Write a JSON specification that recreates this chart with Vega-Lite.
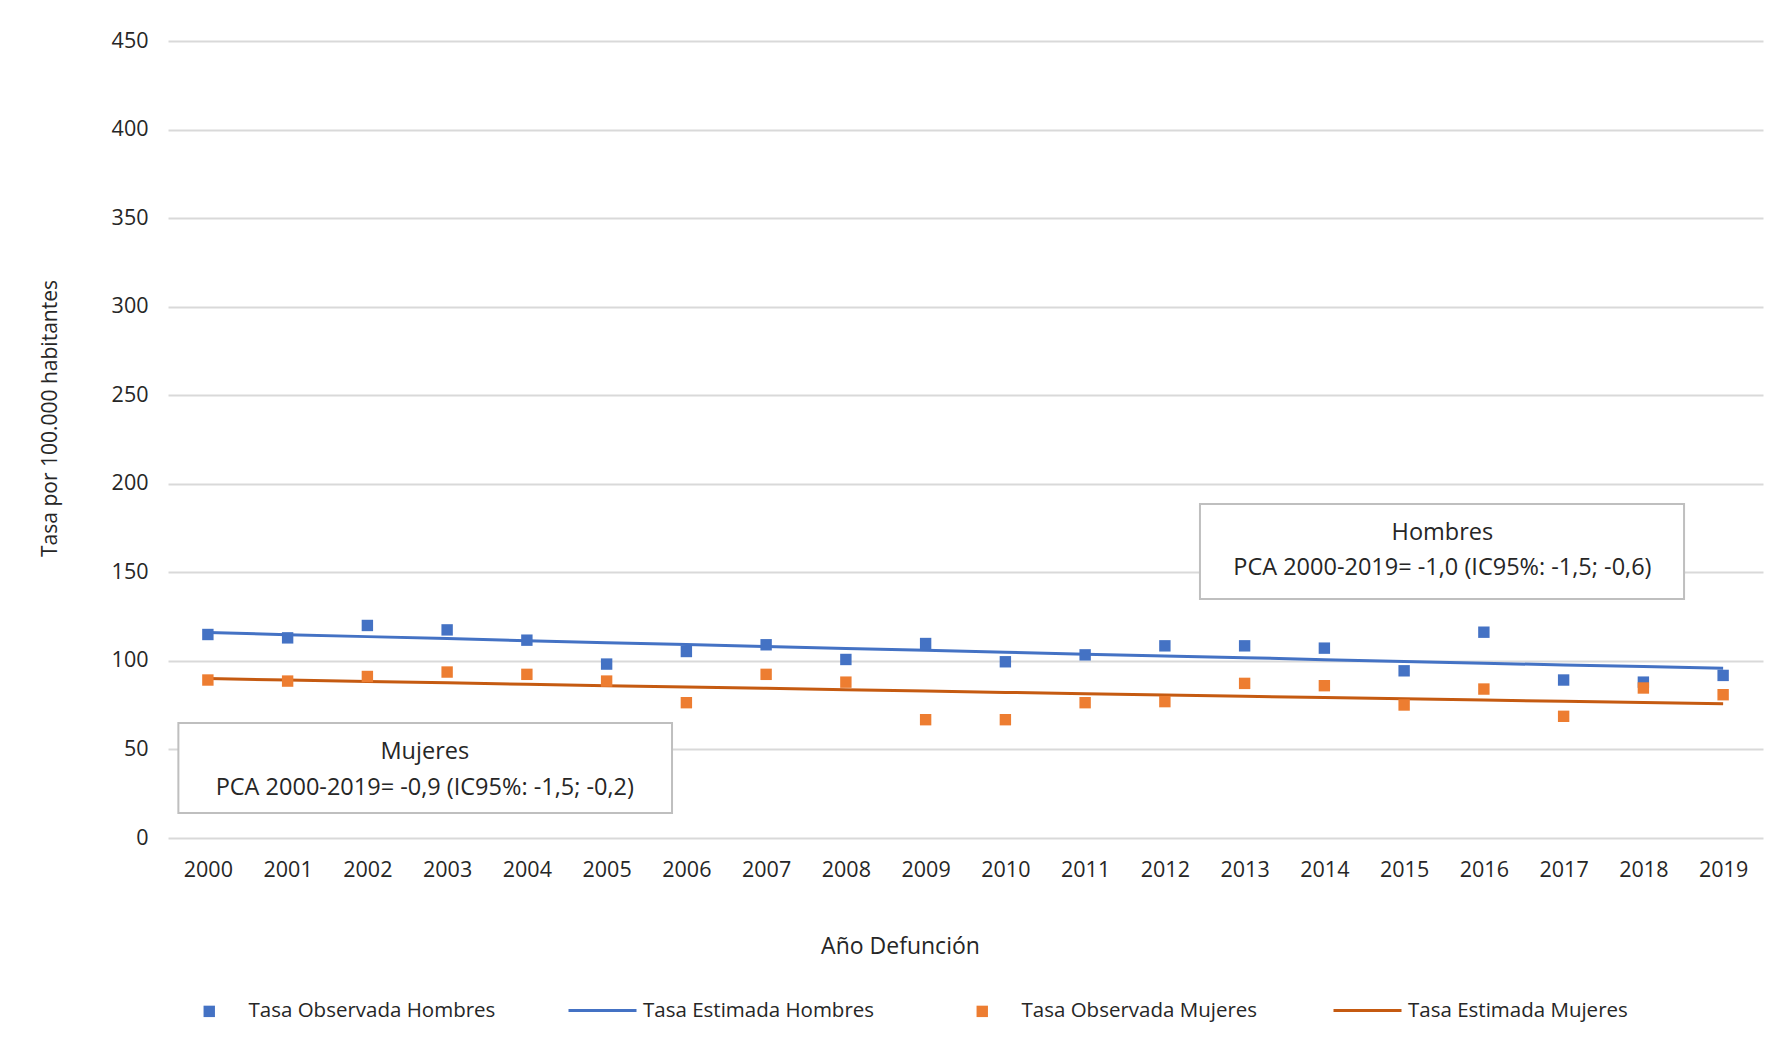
{
  "$schema": "https://vega.github.io/schema/vega-lite/v6.json",
  "width": 1595,
  "height": 797,
  "autosize": {"type": "none"},
  "padding": {"left": 168, "top": 41, "right": 20, "bottom": 209},
  "background": "white",
  "config": {
    "view": {"stroke": null},
    "font": "Open Sans",
    "text": {"font": "Open Sans"},
    "legend": {"padding": 0}
  },
  "datasets": {
    "series": [
      {"year": 2000, "serie": "Tasa Observada Hombres", "value": 114.9},
      {"year": 2001, "serie": "Tasa Observada Hombres", "value": 113.0},
      {"year": 2002, "serie": "Tasa Observada Hombres", "value": 120.0},
      {"year": 2003, "serie": "Tasa Observada Hombres", "value": 117.5},
      {"year": 2004, "serie": "Tasa Observada Hombres", "value": 111.7},
      {"year": 2005, "serie": "Tasa Observada Hombres", "value": 98.2},
      {"year": 2006, "serie": "Tasa Observada Hombres", "value": 105.3},
      {"year": 2007, "serie": "Tasa Observada Hombres", "value": 109.1},
      {"year": 2008, "serie": "Tasa Observada Hombres", "value": 100.8},
      {"year": 2009, "serie": "Tasa Observada Hombres", "value": 109.8},
      {"year": 2010, "serie": "Tasa Observada Hombres", "value": 99.5},
      {"year": 2011, "serie": "Tasa Observada Hombres", "value": 103.4},
      {"year": 2012, "serie": "Tasa Observada Hombres", "value": 108.5},
      {"year": 2013, "serie": "Tasa Observada Hombres", "value": 108.5},
      {"year": 2014, "serie": "Tasa Observada Hombres", "value": 107.2},
      {"year": 2015, "serie": "Tasa Observada Hombres", "value": 94.4},
      {"year": 2016, "serie": "Tasa Observada Hombres", "value": 116.2},
      {"year": 2017, "serie": "Tasa Observada Hombres", "value": 89.2},
      {"year": 2018, "serie": "Tasa Observada Hombres", "value": 88.0},
      {"year": 2019, "serie": "Tasa Observada Hombres", "value": 91.8},
      {"year": 2000, "serie": "Tasa Estimada Hombres", "value": 116.0},
      {"year": 2001, "serie": "Tasa Estimada Hombres", "value": 114.8},
      {"year": 2002, "serie": "Tasa Estimada Hombres", "value": 113.7},
      {"year": 2003, "serie": "Tasa Estimada Hombres", "value": 112.6},
      {"year": 2004, "serie": "Tasa Estimada Hombres", "value": 111.4},
      {"year": 2005, "serie": "Tasa Estimada Hombres", "value": 110.3},
      {"year": 2006, "serie": "Tasa Estimada Hombres", "value": 109.2},
      {"year": 2007, "serie": "Tasa Estimada Hombres", "value": 108.1},
      {"year": 2008, "serie": "Tasa Estimada Hombres", "value": 107.0},
      {"year": 2009, "serie": "Tasa Estimada Hombres", "value": 106.0},
      {"year": 2010, "serie": "Tasa Estimada Hombres", "value": 104.9},
      {"year": 2011, "serie": "Tasa Estimada Hombres", "value": 103.8},
      {"year": 2012, "serie": "Tasa Estimada Hombres", "value": 102.8},
      {"year": 2013, "serie": "Tasa Estimada Hombres", "value": 101.8},
      {"year": 2014, "serie": "Tasa Estimada Hombres", "value": 100.7},
      {"year": 2015, "serie": "Tasa Estimada Hombres", "value": 99.7},
      {"year": 2016, "serie": "Tasa Estimada Hombres", "value": 98.7},
      {"year": 2017, "serie": "Tasa Estimada Hombres", "value": 97.7},
      {"year": 2018, "serie": "Tasa Estimada Hombres", "value": 96.8},
      {"year": 2019, "serie": "Tasa Estimada Hombres", "value": 95.8},
      {"year": 2000, "serie": "Tasa Observada Mujeres", "value": 89.2},
      {"year": 2001, "serie": "Tasa Observada Mujeres", "value": 88.6},
      {"year": 2002, "serie": "Tasa Observada Mujeres", "value": 91.2},
      {"year": 2003, "serie": "Tasa Observada Mujeres", "value": 93.7},
      {"year": 2004, "serie": "Tasa Observada Mujeres", "value": 92.4},
      {"year": 2005, "serie": "Tasa Observada Mujeres", "value": 88.6},
      {"year": 2006, "serie": "Tasa Observada Mujeres", "value": 76.4},
      {"year": 2007, "serie": "Tasa Observada Mujeres", "value": 92.4},
      {"year": 2008, "serie": "Tasa Observada Mujeres", "value": 88.0},
      {"year": 2009, "serie": "Tasa Observada Mujeres", "value": 66.8},
      {"year": 2010, "serie": "Tasa Observada Mujeres", "value": 66.8},
      {"year": 2011, "serie": "Tasa Observada Mujeres", "value": 76.4},
      {"year": 2012, "serie": "Tasa Observada Mujeres", "value": 77.0},
      {"year": 2013, "serie": "Tasa Observada Mujeres", "value": 87.3},
      {"year": 2014, "serie": "Tasa Observada Mujeres", "value": 86.0},
      {"year": 2015, "serie": "Tasa Observada Mujeres", "value": 75.1},
      {"year": 2016, "serie": "Tasa Observada Mujeres", "value": 84.1},
      {"year": 2017, "serie": "Tasa Observada Mujeres", "value": 68.7},
      {"year": 2018, "serie": "Tasa Observada Mujeres", "value": 84.7},
      {"year": 2019, "serie": "Tasa Observada Mujeres", "value": 80.9},
      {"year": 2000, "serie": "Tasa Estimada Mujeres", "value": 90.0},
      {"year": 2001, "serie": "Tasa Estimada Mujeres", "value": 89.2},
      {"year": 2002, "serie": "Tasa Estimada Mujeres", "value": 88.4},
      {"year": 2003, "serie": "Tasa Estimada Mujeres", "value": 87.6},
      {"year": 2004, "serie": "Tasa Estimada Mujeres", "value": 86.8},
      {"year": 2005, "serie": "Tasa Estimada Mujeres", "value": 86.0},
      {"year": 2006, "serie": "Tasa Estimada Mujeres", "value": 85.2},
      {"year": 2007, "serie": "Tasa Estimada Mujeres", "value": 84.5},
      {"year": 2008, "serie": "Tasa Estimada Mujeres", "value": 83.7},
      {"year": 2009, "serie": "Tasa Estimada Mujeres", "value": 83.0},
      {"year": 2010, "serie": "Tasa Estimada Mujeres", "value": 82.2},
      {"year": 2011, "serie": "Tasa Estimada Mujeres", "value": 81.5},
      {"year": 2012, "serie": "Tasa Estimada Mujeres", "value": 80.7},
      {"year": 2013, "serie": "Tasa Estimada Mujeres", "value": 80.0},
      {"year": 2014, "serie": "Tasa Estimada Mujeres", "value": 79.3},
      {"year": 2015, "serie": "Tasa Estimada Mujeres", "value": 78.6},
      {"year": 2016, "serie": "Tasa Estimada Mujeres", "value": 77.9},
      {"year": 2017, "serie": "Tasa Estimada Mujeres", "value": 77.2},
      {"year": 2018, "serie": "Tasa Estimada Mujeres", "value": 76.5},
      {"year": 2019, "serie": "Tasa Estimada Mujeres", "value": 75.8}
    ],
    "boxes": [
      {"x1": 2012.44, "x2": 2018.51, "y1": 135.0, "y2": 188.6},
      {"x1": 1999.63, "x2": 2005.82, "y1": 14.1, "y2": 64.9}
    ],
    "notes": [
      {"x": 2015.48, "y": 172.1, "label": "Hombres"},
      {"x": 2015.48, "y": 152.3, "label": "PCA 2000-2019= -1,0 (IC95%: -1,5; -0,6)"},
      {"x": 2002.72, "y": 48.8, "label": "Mujeres"},
      {"x": 2002.72, "y": 28.2, "label": "PCA 2000-2019= -0,9 (IC95%: -1,5; -0,2)"}
    ]
  },
  "layer": [
    {
      "data": {"name": "boxes"},
      "mark": {"type": "rect", "fill": "white", "stroke": "#BFBFBF", "strokeWidth": 2},
      "encoding": {
        "x": {
          "field": "x1", "type": "quantitative",
          "scale": {"domain": [1999.5, 2019.5], "nice": false, "zero": false},
          "axis": {
            "values": [2000, 2001, 2002, 2003, 2004, 2005, 2006, 2007, 2008, 2009, 2010, 2011, 2012, 2013, 2014, 2015, 2016, 2017, 2018, 2019],
            "format": "d",
            "grid": false,
            "domain": false,
            "ticks": false,
            "labelPadding": 21,
            "labelFontSize": 21.5,
            "labelColor": "#262626",
            "labelFlush": false,
            "title": "Año Defunción",
            "titleFontSize": 23,
            "titleFontWeight": "normal",
            "titleColor": "#262626",
            "titleX": 732,
            "titleY": 108,
            "titleBaseline": "middle",
            "titleAlign": "center"
          }
        },
        "x2": {"field": "x2"},
        "y": {
          "field": "y1", "type": "quantitative",
          "scale": {"domain": [0, 450], "nice": false},
          "axis": {
            "values": [0, 50, 100, 150, 200, 250, 300, 350, 400, 450],
            "grid": true,
            "gridColor": "#D9D9D9",
            "gridWidth": 2,
            "domain": false,
            "ticks": false,
            "labelPadding": 20,
            "labelFontSize": 21.5,
            "labelColor": "#262626",
            "title": "Tasa por 100.000 habitantes",
            "titleFontSize": 21,
            "titleFontWeight": "normal",
            "titleColor": "#262626",
            "titleAngle": 270,
            "titleX": -118,
            "titleY": 377,
            "titleBaseline": "middle",
            "titleAlign": "center"
          }
        },
        "y2": {"field": "y2"}
      }
    },
    {
      "data": {"name": "series"},
      "transform": [{"filter": "indexof(datum.serie, 'Estimada') >= 0"}],
      "mark": {"type": "line", "strokeWidth": 3},
      "encoding": {
        "x": {"field": "year", "type": "quantitative"},
        "y": {"field": "value", "type": "quantitative"},
        "stroke": {
          "field": "serie", "type": "nominal",
          "scale": {
            "domain": ["Tasa Estimada Hombres", "Tasa Estimada Mujeres"],
            "range": ["#4472C4", "#C55A11"]
          },
          "legend": {
            "orient": "none",
            "direction": "horizontal",
            "legendX": 399,
            "legendY": 934,
            "title": null,
            "symbolType": "stroke",
            "symbolSize": 4624,
            "symbolStrokeWidth": 3,
            "labelOffset": 5,
            "columnPadding": 452,
            "labelFontSize": 20.5,
            "labelColor": "#262626",
            "labelLimit": 400
          }
        }
      }
    },
    {
      "data": {"name": "series"},
      "transform": [{"filter": "indexof(datum.serie, 'Observada') >= 0"}],
      "mark": {"type": "point", "shape": "square", "filled": true, "size": 130, "opacity": 1},
      "encoding": {
        "x": {"field": "year", "type": "quantitative"},
        "y": {"field": "value", "type": "quantitative"},
        "fill": {
          "field": "serie", "type": "nominal",
          "scale": {
            "domain": ["Tasa Observada Hombres", "Tasa Observada Mujeres"],
            "range": ["#4472C4", "#ED7D31"]
          },
          "legend": {
            "orient": "none",
            "direction": "horizontal",
            "legendX": 31,
            "legendY": 960,
            "title": null,
            "symbolType": "square",
            "symbolSize": 130,
            "symbolOpacity": 1,
            "labelOffset": 29,
            "columnPadding": 476,
            "labelFontSize": 20.5,
            "labelColor": "#262626",
            "labelLimit": 400
          }
        }
      }
    },
    {
      "data": {"name": "notes"},
      "mark": {"type": "text", "fontSize": 23.5, "color": "#262626", "align": "center", "baseline": "middle"},
      "encoding": {
        "x": {"field": "x", "type": "quantitative"},
        "y": {"field": "y", "type": "quantitative"},
        "text": {"field": "label"}
      }
    }
  ]
}
